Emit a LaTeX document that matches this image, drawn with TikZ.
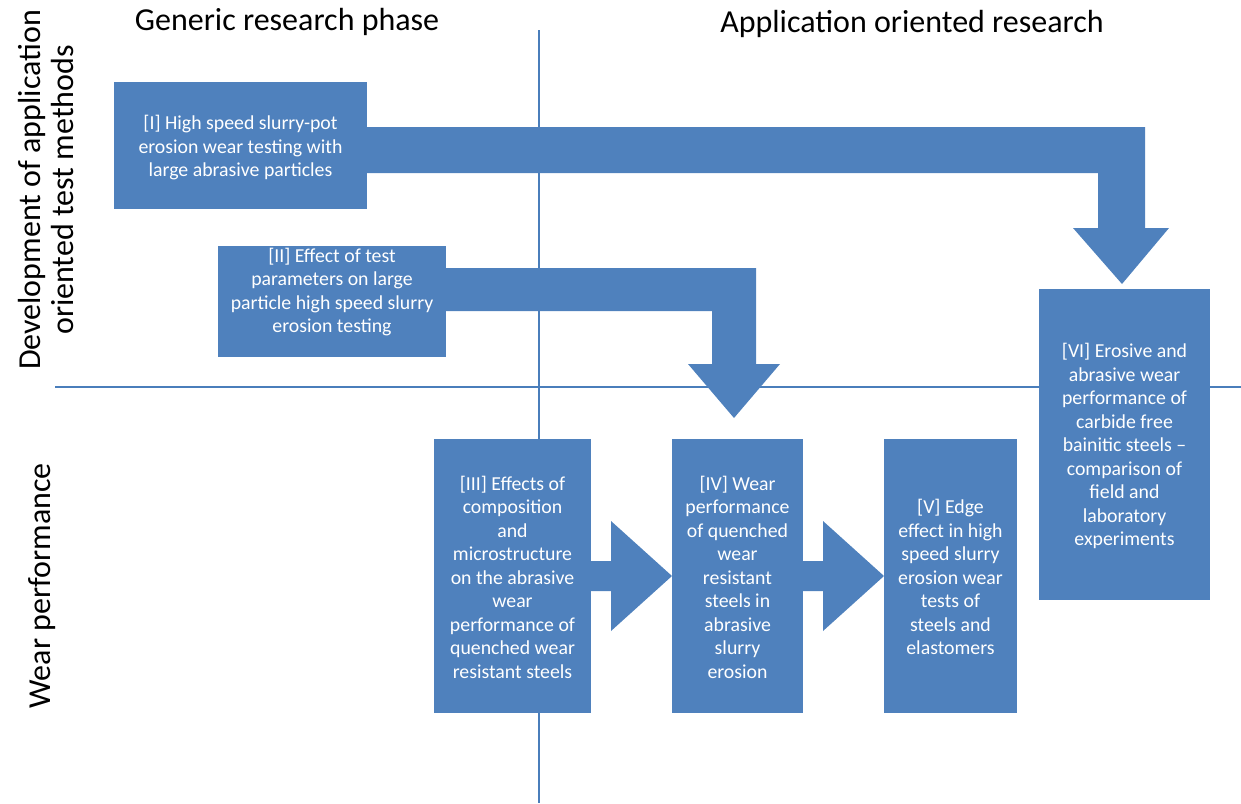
\documentclass[tikz,border=0pt]{standalone}
\usepackage{fontspec}
\setmainfont{Carlito}
\definecolor{boxblue}{HTML}{4F81BD}
\definecolor{lineblue}{HTML}{4A7EBB}
\begin{document}
\begin{tikzpicture}[x=1pt,y=-1pt,
  blk/.style={fill=boxblue,draw=none},
  boxtext/.style={text=white,align=center,font=\fontsize{19.8}{23.5}\selectfont,inner sep=0pt},
  hdr/.style={text=black,font=\fontsize{32}{36}\selectfont,inner sep=0pt},
  axis/.style={draw=lineblue,line width=1.3pt}]
\useasboundingbox (0,0) rectangle (1241,803);
% axes
\coordinate (vtop) at (539,30);
\coordinate (vbot) at (539,803);
\coordinate (hl) at (55,387);
\coordinate (hr) at (1241,387);
\draw[axis] (vtop) -- (vbot);
\draw[axis] (hl) -- (hr);
% headers
\node[hdr] (h1) at (287,22) {Generic research phase};
\node[hdr] (h2) at (912,24) {Application oriented research};
\node[hdr,rotate=90,align=center,font=\fontsize{32}{33}\selectfont] (h3) at (46,190) {Development of application\\oriented test methods};
\node[hdr,rotate=90] (h4) at (42,586) {Wear performance};
% block arrows
\fill[boxblue] (360,127) -- (1145,127) -- (1145,228) -- (1169,228) -- (1122,284) -- (1073,228) -- (1098,228) -- (1098,173) -- (360,173) -- cycle;
\fill[boxblue] (440,268) -- (756,268) -- (756,364) -- (780,364) -- (734,418) -- (688,364) -- (712,364) -- (712,311) -- (440,311) -- cycle;
\fill[boxblue] (585,561) -- (611,561) -- (611,521) -- (672,576) -- (611,631) -- (611,591) -- (585,591) -- cycle;
\fill[boxblue] (797,561) -- (823,561) -- (823,521) -- (884,576) -- (823,631) -- (823,591) -- (797,591) -- cycle;
% boxes
\fill[blk] (114,82) rectangle (367,209);
\node[boxtext] (b1) at (240.5,148) {[I] High speed slurry-pot\\erosion wear testing with\\large abrasive particles};
\fill[blk] (218,246) rectangle (446,357);
\node[boxtext] (b2) at (332,292) {[II] Effect of test\\parameters on large\\particle high speed slurry\\erosion testing};
\fill[blk] (434,439) rectangle (591,713);
\node[boxtext] (b3) at (512.5,577) {[III] Effects of\\composition\\and\\microstructure\\on the abrasive\\wear\\performance of\\quenched wear\\resistant steels};
\fill[blk] (672,439) rectangle (803,713);
\node[boxtext] (b4) at (737.5,577) {[IV] Wear\\performance\\of quenched\\wear\\resistant\\steels in\\abrasive\\slurry\\erosion};
\fill[blk] (884,439) rectangle (1017,713);
\node[boxtext] (b5) at (950.5,577) {[V] Edge\\effect in high\\speed slurry\\erosion wear\\tests of\\steels and\\elastomers};
\fill[blk] (1039,289) rectangle (1210,600);
\node[boxtext] (b6) at (1124.5,446) {[VI] Erosive and\\abrasive wear\\performance of\\carbide free\\bainitic steels --\\comparison of\\field and\\laboratory\\experiments};
\end{tikzpicture}
\end{document}
